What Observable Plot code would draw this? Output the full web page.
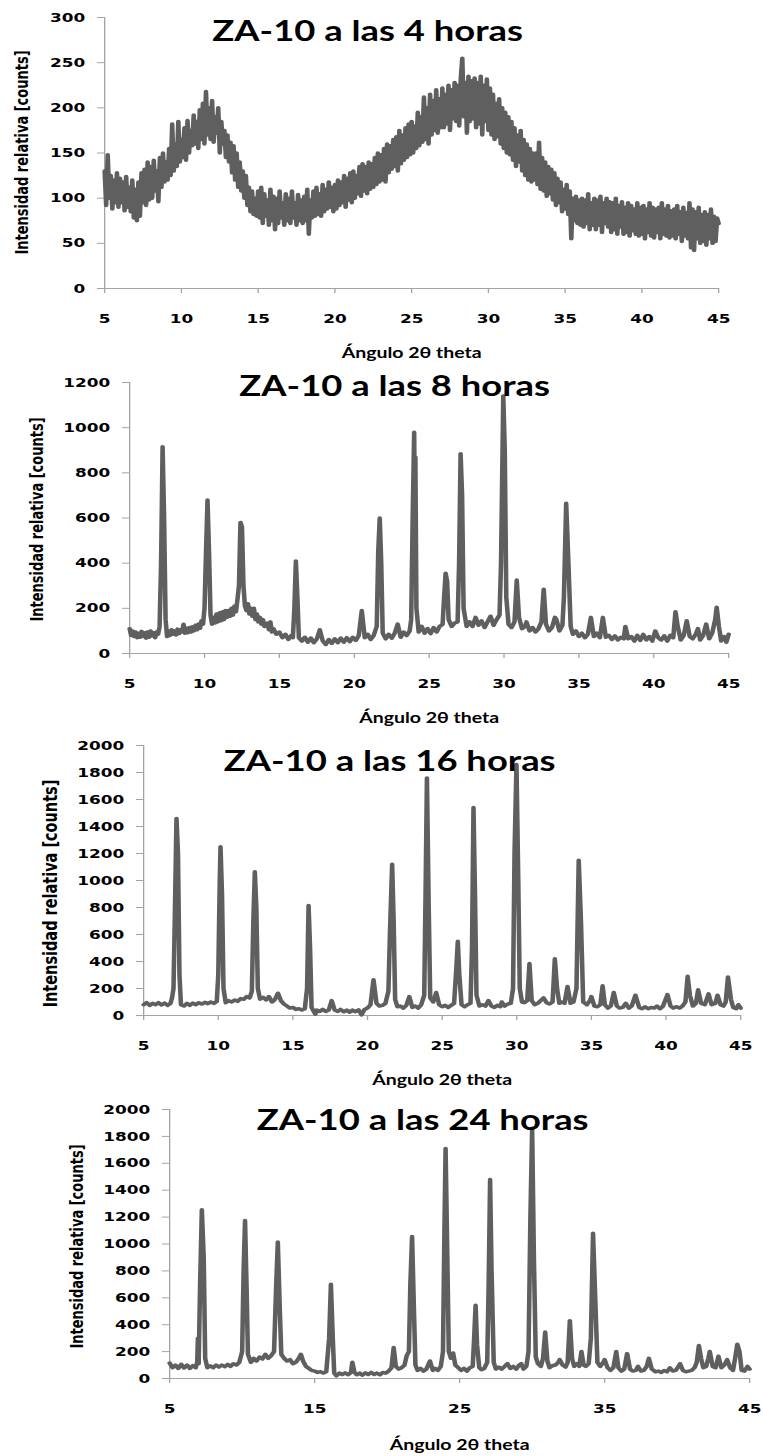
<!DOCTYPE html>
<html>
<head>
<meta charset="utf-8">
<script src="https://cdn.jsdelivr.net/npm/d3@7"></script>
<script src="https://cdn.jsdelivr.net/npm/@observablehq/plot@0.6"></script>
<style>
  html, body { margin: 0; padding: 0; background: #fff; overflow: hidden; }
  #figure { position: relative; width: 763px; height: 1456px; background: #fff; }
  #figure svg { position: absolute; left: 0; }
</style>
</head>
<body>
<div id="figure"></div>
<script>
// ---------- Data: ZA-10 X-ray diffraction patterns ----------

const xTitle = "Ángulo 2θ theta";
const yTitle = "Intensidad relativa [counts]";
const titles = ["ZA-10 a las 4 horas", "ZA-10 a las 8 horas", "ZA-10 a las 16 horas", "ZA-10 a las 24 horas"];

// tick values for each panel
const xTicks = [5, 10, 15, 20, 25, 30, 35, 40, 45];
const xTicks24h = [5, 15, 25, 35, 45];
const yTicks4h = [0, 50, 100, 150, 200, 250, 300];
const yTicks8h = [0, 200, 400, 600, 800, 1000, 1200];
const yTicks16h = [0, 200, 400, 600, 800, 1000, 1200, 1400, 1600, 1800, 2000];
const yTicks24h = [0, 200, 400, 600, 800, 1000, 1200, 1400, 1600, 1800, 2000];

// 4 h: counts every 0.1° from 5.0° to 45.0° (amorphous humps, noisy)
const angleStart4h = 5;
const angleStep4h = 0.1;
const counts4h = [
  130, 92, 148, 100, 125, 88, 120, 95, 128, 90,
  122, 95, 118, 86, 124, 90, 112, 85, 120, 78,
  110, 75, 118, 80, 128, 95, 132, 92, 140, 98,
  135, 100, 142, 108, 130, 96, 145, 112, 150, 118,
  140, 120, 155, 125, 182, 130, 160, 135, 185, 140,
  165, 145, 178, 142, 186, 150, 175, 158, 192, 160,
  185, 155, 198, 165, 205, 160, 218, 170, 200, 165,
  208, 162, 190, 172, 200, 150, 185, 160, 175, 145,
  170, 140, 162, 128, 158, 120, 150, 112, 140, 108,
  130, 100, 125, 92, 112, 85, 108, 82, 100, 80,
  108, 78, 112, 72, 105, 80, 98, 70, 110, 75,
  102, 65, 100, 72, 108, 78, 95, 70, 105, 75,
  100, 72, 108, 78, 95, 70, 104, 75, 98, 72,
  102, 75, 110, 60, 98, 78, 108, 80, 112, 82,
  105, 80, 115, 85, 110, 88, 118, 90, 112, 85,
  115, 88, 120, 92, 118, 95, 125, 90, 122, 98,
  128, 95, 130, 100, 125, 105, 135, 102, 138, 108,
  135, 105, 140, 110, 138, 112, 145, 115, 150, 118,
  148, 120, 155, 118, 160, 128, 158, 132, 165, 135,
  168, 130, 175, 138, 170, 142, 178, 145, 182, 148,
  185, 150, 180, 155, 195, 158, 190, 162, 212, 165,
  200, 160, 215, 170, 208, 175, 220, 172, 210, 178,
  222, 178, 215, 182, 225, 175, 220, 188, 228, 185,
  225, 180, 232, 255, 190, 228, 172, 235, 185, 230,
  188, 233, 178, 228, 182, 235, 170, 225, 185, 232,
  175, 222, 170, 215, 165, 205, 168, 210, 160, 200,
  155, 195, 150, 190, 148, 185, 142, 178, 135, 170,
  140, 175, 130, 165, 125, 160, 120, 155, 118, 150,
  120, 150, 115, 162, 110, 145, 108, 140, 102, 135,
  105, 132, 98, 128, 92, 122, 95, 118, 85, 110,
  88, 115, 82, 108, 55, 100, 75, 102, 72, 98,
  70, 100, 68, 98, 72, 105, 65, 95, 70, 100,
  65, 98, 70, 102, 62, 95, 72, 100, 68, 96,
  62, 95, 65, 100, 60, 92, 68, 96, 60, 90,
  62, 95, 58, 92, 64, 88, 60, 95, 58, 90,
  60, 92, 55, 88, 62, 95, 58, 90, 56, 88,
  62, 90, 55, 95, 60, 88, 58, 92, 56, 86,
  58, 88, 55, 92, 60, 85, 52, 90, 58, 84,
  55, 95, 45, 88, 42, 85, 55, 90, 50, 82,
  52, 85, 48, 82, 55, 88, 50, 80, 52, 78,
  72
];

// 8 h: [angle 2θ, counts]
const pattern8h = [
  [5.0,110],[5.1,80],[5.2,100],[5.3,75],[5.4,95],[5.5,70],[5.6,90],[5.7,72],[5.8,98],[5.9,75],
  [6.0,92],[6.1,68],[6.2,95],[6.3,72],[6.4,100],[6.5,78],[6.6,92],[6.7,70],[6.8,95],[6.9,85],
  [7.0,120],[7.1,400],[7.2,915],[7.3,600],[7.4,150],[7.5,75],[7.6,100],[7.7,80],[7.8,105],[7.9,85],
  [8.0,100],[8.1,82],[8.2,108],[8.3,88],[8.4,105],[8.5,95],[8.6,130],[8.7,90],[8.8,112],[8.9,92],
  [9.0,115],[9.1,95],[9.2,118],[9.3,100],[9.4,125],[9.5,105],[9.6,130],[9.7,112],[9.8,145],[9.9,130],
  [10.0,200],[10.1,450],[10.2,680],[10.3,450],[10.4,170],[10.5,130],[10.6,160],[10.7,135],[10.8,175],[10.9,140],
  [11.0,180],[11.1,145],[11.2,185],[11.3,150],[11.4,190],[11.5,160],[11.6,190],[11.7,165],[11.8,200],[11.9,170],
  [12.0,210],[12.1,185],[12.2,240],[12.3,300],[12.4,580],[12.5,560],[12.6,300],[12.7,210],[12.8,190],[12.9,220],
  [13.0,175],[13.1,200],[13.2,165],[13.3,200],[13.4,150],[13.5,175],[13.6,140],[13.7,160],[13.8,130],[13.9,150],
  [14.0,120],[14.2,135],[14.3,105],[14.4,140],[14.5,95],[14.6,110],[14.8,85],[15.0,95],[15.2,70],[15.4,85],
  [15.6,62],[15.8,80],[15.9,70],[16.0,200],[16.1,410],[16.2,250],[16.3,70],[16.5,55],[16.7,72],[16.9,50],
  [17.1,68],[17.3,48],[17.5,65],[17.7,105],[17.9,55],[18.1,40],[18.3,62],[18.5,45],[18.7,65],[18.9,48],
  [19.1,68],[19.3,50],[19.5,70],[19.7,52],[19.9,72],[20.1,58],[20.3,80],[20.5,190],[20.7,70],[20.9,85],
  [21.1,62],[21.3,80],[21.5,120],[21.6,450],[21.7,600],[21.8,400],[21.9,90],[22.1,65],[22.3,85],[22.5,68],
  [22.7,90],[22.9,130],[23.1,72],[23.3,95],[23.5,80],[23.7,100],[23.8,150],[23.9,600],[24.0,980],[24.05,500],
  [24.08,870],[24.15,200],[24.3,95],[24.5,120],[24.7,90],[24.9,110],[25.1,88],[25.3,115],[25.5,95],[25.7,120],
  [25.9,130],[26.0,250],[26.1,355],[26.2,320],[26.3,150],[26.5,120],[26.7,135],[26.9,140],[27.0,400],[27.1,885],
  [27.2,700],[27.3,200],[27.5,120],[27.7,140],[27.9,120],[28.1,160],[28.3,125],[28.5,145],[28.7,115],[28.9,140],
  [29.1,165],[29.3,125],[29.5,150],[29.7,170],[29.8,400],[29.95,1140],[30.05,900],[30.15,250],[30.3,130],[30.5,115],
  [30.7,140],[30.85,325],[31.0,160],[31.2,110],[31.4,120],[31.5,140],[31.7,100],[31.9,115],[32.1,95],[32.3,110],
  [32.5,140],[32.65,285],[32.8,130],[33.0,100],[33.2,115],[33.4,160],[33.5,150],[33.7,100],[33.9,125],[34.0,250],
  [34.15,665],[34.3,400],[34.45,120],[34.6,85],[34.8,100],[35.0,75],[35.2,90],[35.4,70],[35.6,85],[35.8,160],
  [36.0,75],[36.2,90],[36.4,70],[36.6,160],[36.8,72],[37.0,80],[37.2,62],[37.4,78],[37.6,60],[37.8,72],
  [38.0,65],[38.1,120],[38.3,65],[38.5,75],[38.7,55],[38.9,80],[39.1,58],[39.3,85],[39.5,60],[39.7,75],
  [39.9,55],[40.1,100],[40.3,70],[40.5,60],[40.7,78],[40.9,55],[41.1,80],[41.3,70],[41.45,185],[41.6,120],
  [41.8,60],[42.0,80],[42.2,145],[42.4,75],[42.6,65],[42.8,85],[42.95,110],[43.1,60],[43.3,80],[43.5,130],
  [43.7,65],[43.9,90],[44.1,150],[44.2,205],[44.35,120],[44.5,55],[44.7,75],[44.85,50],[45.0,85]
];

// 16 h: [angle 2θ, counts]
const pattern16h = [
  [5.0,80],[5.2,95],[5.4,75],[5.6,90],[5.8,80],[6.0,95],[6.2,78],[6.4,92],[6.6,75],[6.8,90],
  [6.9,130],[7.0,200],[7.1,800],[7.2,1460],[7.3,1200],[7.4,300],[7.5,80],[7.7,70],[7.9,90],[8.1,75],
  [8.3,92],[8.5,80],[8.7,95],[8.9,85],[9.1,98],[9.3,88],[9.5,100],[9.7,90],[9.9,105],[10.0,300],
  [10.1,1000],[10.15,1250],[10.25,900],[10.35,200],[10.5,95],[10.7,110],[10.9,100],[11.1,115],[11.3,105],[11.5,125],
  [11.7,120],[11.9,140],[12.1,130],[12.25,180],[12.35,700],[12.45,1065],[12.55,800],[12.65,200],[12.8,120],[13.0,135],
  [13.2,115],[13.4,140],[13.6,100],[13.8,120],[14.0,165],[14.2,110],[14.4,85],[14.6,70],[14.8,55],[15.0,60],
  [15.2,45],[15.4,50],[15.6,40],[15.8,50],[15.95,200],[16.05,815],[16.15,500],[16.25,60],[16.4,30],[16.5,10],
  [16.6,40],[16.8,30],[17.0,45],[17.2,30],[17.4,40],[17.6,110],[17.8,40],[18.0,30],[18.2,45],[18.4,28],
  [18.6,40],[18.8,25],[19.0,40],[19.2,28],[19.4,42],[19.6,5],[19.8,45],[20.0,55],[20.2,80],[20.4,265],
  [20.6,90],[20.8,70],[21.0,75],[21.2,90],[21.4,180],[21.5,600],[21.65,1120],[21.75,700],[21.85,120],[22.0,65],
  [22.2,70],[22.4,55],[22.6,75],[22.8,140],[23.0,60],[23.2,70],[23.4,55],[23.6,80],[23.8,150],[23.9,1000],
  [23.98,1760],[24.1,800],[24.2,130],[24.4,100],[24.6,170],[24.8,80],[25.0,65],[25.2,75],[25.4,60],[25.6,75],
  [25.8,90],[25.95,350],[26.05,550],[26.15,300],[26.3,80],[26.5,65],[26.7,80],[26.9,90],[27.0,500],[27.1,1540],
  [27.2,900],[27.3,150],[27.5,70],[27.7,80],[27.9,70],[28.1,110],[28.3,70],[28.5,60],[28.7,75],[28.9,65],
  [29.0,100],[29.2,70],[29.4,85],[29.6,90],[29.75,200],[29.85,1200],[29.98,1860],[30.1,1000],[30.2,200],[30.35,100],
  [30.5,95],[30.7,110],[30.85,385],[31.0,110],[31.2,80],[31.4,90],[31.6,110],[31.8,130],[32.0,95],[32.2,85],
  [32.4,100],[32.55,420],[32.7,200],[32.85,90],[33.0,100],[33.2,90],[33.4,215],[33.6,90],[33.8,100],[34.0,200],
  [34.15,1150],[34.3,700],[34.45,100],[34.7,80],[34.9,110],[35.0,140],[35.2,70],[35.4,65],[35.6,80],[35.75,220],
  [35.9,80],[36.1,55],[36.3,70],[36.5,170],[36.7,70],[36.9,55],[37.1,60],[37.3,90],[37.5,55],[37.7,70],
  [37.95,150],[38.2,60],[38.4,50],[38.6,65],[38.8,50],[39.0,60],[39.2,55],[39.4,70],[39.6,50],[39.8,70],
  [40.1,155],[40.3,70],[40.5,55],[40.7,65],[40.9,55],[41.1,70],[41.3,100],[41.45,290],[41.6,150],[41.8,70],
  [42.0,90],[42.15,190],[42.35,90],[42.6,80],[42.85,160],[43.05,80],[43.3,90],[43.45,150],[43.65,80],[43.85,70],
  [44.0,100],[44.15,285],[44.35,120],[44.5,60],[44.7,50],[44.85,80],[45.0,55]
];

// 24 h: [angle 2θ, counts]
const pattern24h = [
  [5.0,115],[5.2,80],[5.4,100],[5.6,75],[5.8,105],[6.0,78],[6.2,100],[6.4,75],[6.6,95],[6.8,80],
  [6.9,120],[6.95,300],[7.0,110],[7.1,700],[7.22,1255],[7.35,900],[7.45,150],[7.6,80],[7.8,95],[8.0,80],
  [8.2,100],[8.4,85],[8.6,100],[8.8,88],[9.0,105],[9.2,90],[9.4,110],[9.6,100],[9.8,120],[10.0,200],
  [10.1,800],[10.2,1175],[10.3,700],[10.4,180],[10.6,120],[10.8,150],[11.0,130],[11.2,160],[11.4,145],[11.6,180],
  [11.8,150],[12.0,170],[12.2,200],[12.35,700],[12.46,1015],[12.6,500],[12.7,180],[12.9,150],[13.1,130],[13.3,140],
  [13.5,110],[13.7,120],[13.9,150],[14.05,180],[14.2,130],[14.4,90],[14.6,75],[14.8,60],[15.0,55],[15.2,45],
  [15.4,50],[15.6,40],[15.8,50],[16.0,300],[16.12,700],[16.25,300],[16.35,40],[16.5,20],[16.7,40],[16.9,30],
  [17.1,42],[17.3,28],[17.5,45],[17.6,120],[17.75,45],[17.9,28],[18.1,40],[18.3,25],[18.5,42],[18.7,30],
  [18.9,45],[19.1,30],[19.3,40],[19.5,28],[19.7,45],[19.9,40],[20.1,55],[20.3,80],[20.45,230],[20.6,90],
  [20.8,70],[21.0,80],[21.2,100],[21.35,170],[21.5,200],[21.6,700],[21.72,1055],[21.85,500],[21.95,100],[22.1,60],
  [22.3,75],[22.5,55],[22.7,70],[22.95,130],[23.15,60],[23.3,75],[23.5,60],[23.7,90],[23.85,200],[23.95,1100],
  [24.03,1710],[24.15,900],[24.25,200],[24.4,150],[24.55,190],[24.7,100],[24.9,80],[25.1,60],[25.3,75],[25.5,55],
  [25.7,80],[25.9,90],[26.0,300],[26.1,545],[26.2,250],[26.35,80],[26.5,65],[26.7,75],[26.9,120],[27.0,700],
  [27.1,1480],[27.2,800],[27.35,120],[27.5,70],[27.7,85],[27.9,70],[28.1,90],[28.3,110],[28.5,75],[28.7,90],
  [28.9,70],[29.1,100],[29.25,110],[29.4,70],[29.6,90],[29.75,200],[29.88,1200],[30.0,1860],[30.12,900],[30.25,160],
  [30.4,110],[30.6,90],[30.75,150],[30.9,345],[31.05,130],[31.2,80],[31.4,95],[31.6,100],[31.8,120],[31.9,140],
  [32.1,100],[32.3,85],[32.45,120],[32.6,430],[32.75,150],[32.9,90],[33.1,110],[33.25,90],[33.4,200],[33.55,100],
  [33.7,90],[33.9,110],[34.05,300],[34.2,1080],[34.35,600],[34.5,120],[34.7,90],[34.9,120],[35.0,140],[35.2,80],
  [35.4,60],[35.6,80],[35.8,200],[35.95,80],[36.15,55],[36.35,70],[36.55,185],[36.75,70],[36.95,55],[37.15,60],
  [37.3,90],[37.5,55],[37.7,60],[37.9,90],[38.05,150],[38.25,70],[38.5,50],[38.7,55],[38.9,45],[39.1,60],
  [39.3,50],[39.5,80],[39.7,55],[39.9,60],[40.1,90],[40.2,110],[40.4,60],[40.6,50],[40.8,55],[41.0,60],
  [41.2,80],[41.35,120],[41.5,245],[41.65,150],[41.8,80],[42.0,90],[42.15,150],[42.25,200],[42.45,90],[42.65,80],
  [42.85,165],[43.05,80],[43.25,100],[43.45,140],[43.65,80],[43.85,60],[44.0,150],[44.15,255],[44.3,200],[44.45,60],
  [44.65,55],[44.85,90],[45.0,70]
];

// ---------- Layout ----------
const PAGE_W = 763;
const STRETCH = 1.3;                 // horizontal widening of the whole figure
const UNIT_W = PAGE_W / STRETCH;     // drawing width before widening
const AXIS_COLOR = "#a3a3a3";
const LINE_COLOR = "#5f5f5f";

const toRows = pairs => pairs.map(([angle, counts]) => ({angle, counts}));
const rows4h = counts4h.map((counts, i) => ({angle: +(angleStart4h + i * angleStep4h).toFixed(1), counts}));

// page-pixel geometry of each panel
const panels = [
  {title: titles[0], data: rows4h, yMax: 300, yTicks: yTicks4h, xTicks,
   top: 0, height: 366, frame: {left: 104, right: 718, top: 17, bottom: 288},
   titleX: 367, titleY: 32, yLabelX: 22, yLabelY: 152, yLabelSize: 13, xLabelY: 353},
  {title: titles[1], data: toRows(pattern8h), yMax: 1200, yTicks: yTicks8h, xTicks,
   top: 366, height: 362, frame: {left: 129, right: 728, top: 382, bottom: 653},
   titleX: 394, titleY: 21, yLabelX: 37, yLabelY: 153, yLabelSize: 13, xLabelY: 352},
  {title: titles[2], data: toRows(pattern16h), yMax: 2000, yTicks: yTicks16h, xTicks,
   top: 728, height: 362, frame: {left: 143, right: 740, top: 745, bottom: 1015},
   titleX: 389, titleY: 34, yLabelX: 50, yLabelY: 165, yLabelSize: 14.5, xLabelY: 352},
  {title: titles[3], data: toRows(pattern24h), yMax: 2000, yTicks: yTicks24h, xTicks: xTicks24h,
   top: 1090, height: 366, frame: {left: 169, right: 749, top: 1109, bottom: 1378},
   titleX: 422, titleY: 31, yLabelX: 77, yLabelY: 156, yLabelSize: 13, xLabelY: 355}
];

function drawPanel(p) {
  const mL = p.frame.left / STRETCH;
  const mR = UNIT_W - p.frame.right / STRETCH;
  const mT = p.frame.top - p.top;
  const mB = p.top + p.height - p.frame.bottom;
  const frameMidY = mT + (p.height - mT - mB) / 2;

  const svg = Plot.plot({
    width: UNIT_W,
    height: p.height,
    marginLeft: mL, marginRight: mR, marginTop: mT, marginBottom: mB,
    style: {fontFamily: "'DejaVu Sans', Verdana, sans-serif", fontWeight: "bold", fontSize: "13px", color: "#000", background: "transparent", overflow: "visible"},
    x: {domain: [5, 45]},
    y: {domain: [0, p.yMax]},
    marks: [
      Plot.axisX(p.xTicks, {tickSize: 5, tickPadding: 20, stroke: AXIS_COLOR, fill: "#000", label: null, tickFormat: d => String(d)}),
      Plot.axisY(p.yTicks, {tickSize: 5.4, tickPadding: 9.6, stroke: AXIS_COLOR, fill: "#000", label: null, tickFormat: d => String(d)}),
      Plot.ruleY([0], {stroke: AXIS_COLOR}),
      Plot.ruleX([5], {stroke: AXIS_COLOR}),
      Plot.line(p.data, {x: "angle", y: "counts", stroke: LINE_COLOR, strokeWidth: 3.5, strokeLinejoin: "round", strokeLinecap: "round"}),
      Plot.text([p.title], {text: d => d, frameAnchor: "top-left", dx: p.titleX / STRETCH - mL, dy: p.titleY - mT,
        textAnchor: "middle", lineAnchor: "middle", fontFamily: "Lato, 'Open Sans', sans-serif", fontWeight: "bold", fontSize: 28, fill: "#000"}),
      Plot.text([xTitle], {text: d => d, frameAnchor: "bottom", dy: p.xLabelY - (p.height - mB),
        lineAnchor: "middle", fontFamily: "Lato, 'Open Sans', sans-serif", fontWeight: "bold", fontSize: 15, fill: "#000"}),
      Plot.text([yTitle], {text: d => d, frameAnchor: "left", dx: p.yLabelX / STRETCH - mL, dy: p.yLabelY - frameMidY,
        rotate: -90, textAnchor: "middle", lineAnchor: "middle", fontSize: p.yLabelSize, fontWeight: "bold", fill: "#000"})
    ]
  });

  svg.setAttribute("viewBox", `0 0 ${UNIT_W} ${p.height}`);
  svg.setAttribute("preserveAspectRatio", "none");
  svg.setAttribute("width", PAGE_W);
  svg.setAttribute("height", p.height);
  svg.style.width = PAGE_W + "px";
  svg.style.height = p.height + "px";
  svg.style.maxWidth = "none";
  svg.style.top = p.top + "px";
  return svg;
}

const figure = document.getElementById("figure");
panels.forEach(p => figure.appendChild(drawPanel(p)));
</script>
</body>
</html>
